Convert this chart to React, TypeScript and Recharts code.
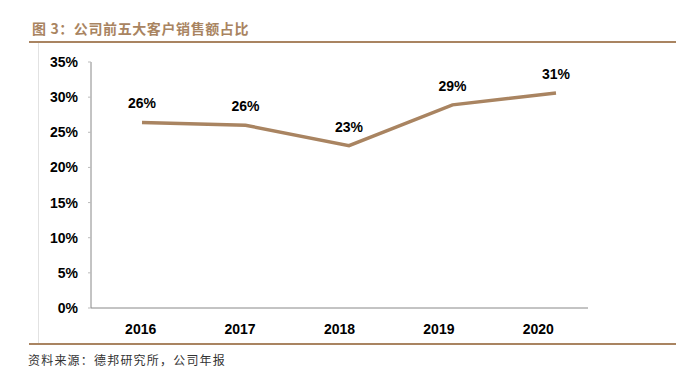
import React from 'react';
import { LineChart, Line, XAxis, YAxis, LabelList } from 'recharts';

const years = ['2016', '2017', '2018', '2019', '2020'];
const shares = [26.4, 26.0, 23.1, 28.9, 30.6];
const yTicks = [0, 5, 10, 15, 20, 25, 30, 35];
const edgeTicks = [1, 2, 3, 4, 5];

const brown = '#a98461';
const cn = '"Noto Sans CJK SC", "Liberation Sans", sans-serif';

const data = years.map((year, i) => ({ year, share: shares[i] }));

export default function App() {
  return (
    <div style={{ position: 'relative', width: 676, height: 377, background: '#fff', fontFamily: '"Liberation Sans", Arial, sans-serif' }}>
      <style>{'body{margin:0}'}</style>
      <div style={{ position: 'absolute', left: 32, top: 18, fontFamily: cn, fontWeight: 700, fontSize: 14, color: brown, letterSpacing: 0.6 }}>
        图 3：公司前五大客户销售额占比
      </div>
      <div style={{ position: 'absolute', left: 29, top: 41, width: 647, height: 2, background: brown }} />
      <div style={{ position: 'absolute', left: 38, top: 43, width: 1, height: 300, background: '#e2e2e2' }} />
      <div style={{ position: 'absolute', left: 29, top: 343, width: 647, height: 2, background: brown }} />
      <div style={{ position: 'absolute', left: 28, top: 351, fontFamily: cn, fontSize: 12, color: '#333', letterSpacing: 1.2 }}>
        资料来源：德邦研究所，公司年报
      </div>
      <div style={{ position: 'absolute', left: 0, top: 0 }}>
        <LineChart width={676} height={377} data={data} margin={{ top: 62, right: 88, bottom: 39, left: 0 }}>
          {/* category boundary ticks, pointing up into the plot */}
          <XAxis
            xAxisId="edge"
            type="number"
            domain={[0, 5]}
            ticks={edgeTicks}
            interval={0}
            tick={() => <g />}
            axisLine={false}
            tickLine={{ stroke: '#999' }}
            tickSize={5}
            mirror
            height={0}
          />
          <XAxis
            dataKey="year"
            scale="band"
            axisLine={{ stroke: '#888' }}
            tickLine={false}
            height={30}
            tick={{ fill: '#000', fontSize: 14, fontWeight: 700 }}
            tickMargin={10}
          />
          {/* the line in the source is spread a little wider than the categories */}
          <XAxis xAxisId="line" dataKey="year" hide padding={{ left: 51, right: 32 }} />
          <YAxis
            width={91}
            domain={[0, 35]}
            ticks={yTicks}
            interval={0}
            tickFormatter={(v: number) => `${v}%`}
            axisLine={{ stroke: '#888' }}
            tickLine={{ stroke: '#bbb' }}
            tickSize={3}
            tickMargin={10}
            tick={{ fill: '#000', fontSize: 14, fontWeight: 700 }}
          />
          <Line
            xAxisId="line"
            type="linear"
            dataKey="share"
            stroke={brown}
            strokeWidth={3.5}
            dot={false}
            isAnimationActive={false}
          >
            <LabelList
              dataKey="share"
              position="top"
              offset={14}
              formatter={(v: number) => `${Math.round(v)}%`}
              style={{ fill: '#000', fontSize: 14, fontWeight: 700 }}
            />
          </Line>
        </LineChart>
      </div>
    </div>
  );
}
